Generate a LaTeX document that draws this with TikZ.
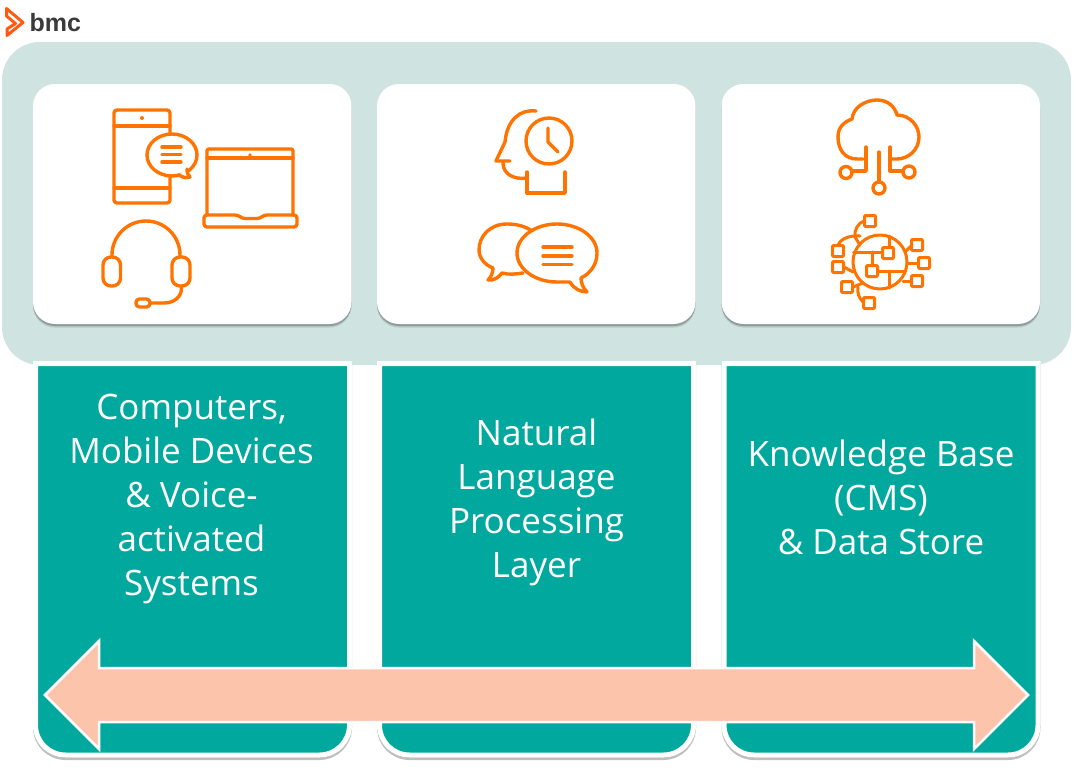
\documentclass[tikz,border=0pt]{standalone}
\usepackage{fontspec}
\setmainfont{Open Sans}
\newfontfamily\logofont{Liberation Sans}
\usetikzlibrary{calc,shadows}
\definecolor{panelgreen}{HTML}{CFE3E0}
\definecolor{colteal}{HTML}{01A89E}
\definecolor{arrowpeach}{HTML}{FBC4AB}
\definecolor{iconorange}{HTML}{FF7300}
\definecolor{logored}{HTML}{FF5A14}
\definecolor{logogray}{HTML}{3A3A3A}
\tikzset{
  colshadow/.style={drop shadow={shadow xshift=0pt,shadow yshift=-2.5pt,fill=black,draw=black,line width=5pt,opacity=.25}},
  cardshadow/.style={drop shadow={shadow xshift=0pt,shadow yshift=-3.5pt,fill=black,opacity=.12},
    drop shadow={shadow xshift=0pt,shadow yshift=-2pt,fill=black,opacity=.22}},
  icon/.style={draw=iconorange,line width=3.4pt,line cap=round,line join=round},
  iconthin/.style={icon,line width=3pt},
  coltext/.style={text=white,align=center,font=\fontsize{35}{44}\selectfont},
}
\begin{document}
\begin{tikzpicture}[x=1pt,y=-1pt]
    \useasboundingbox (0,0) rectangle (1078,776);
    \fill[white] (0,0) rectangle (1078,776);

    % logo
    \draw[logored,line width=3pt,line join=round,line cap=round]
        (6.5,8.5) -- (23,22.5) -- (7,35.5) -- (7,29) -- (15.5,23.5) -- (6.5,16) -- cycle;
    \node[anchor=base west,inner sep=0pt,text=logogray,font=\logofont\bfseries\fontsize{25}{25}\selectfont] (Logo) at (29.5,31.5) {bmc};

    % background panel
    \fill[panelgreen,rounded corners=38pt] (2,42) rectangle (1071,365);

    % the three columns, then the cards above them
    \foreach \x in {35.5,379.5,724}{
      \filldraw[colteal,draw=white,line width=5pt,colshadow]
          (\x,363.5) -- ++(314,0) [rounded corners=30pt] -- ++(0,391.5) -- ++(-314,0) [sharp corners] -- cycle;
      \fill[white,rounded corners=22pt,cardshadow]
          ($(\x,84)+(-2.5,0)$) rectangle ++(318.5,240);
    }

    % column texts
    \node[coltext] (ColDevices) at (191.5,499) {Computers,\\Mobile Devices\\\& Voice-\\activated\\Systems};
    \node[coltext] (ColLanguage) at (536.5,502) {Natural\\Language\\Processing\\Layer};
    \node[coltext] (ColKnowledge) at (881,497) {Knowledge Base\\(CMS)\\\& Data Store};

    % double arrow
    \filldraw[arrowpeach,draw=white,line width=2.5pt,line join=miter]
        (45,695) -- (99,641) -- (99,668) -- (974,668) -- (974,641) -- (1028,695)
        -- (974,749) -- (974,722) -- (99,722) -- (99,749) -- cycle;

    % phone with bubble
    \draw[icon,rounded corners=3pt] (114,110) rectangle (170,203);
    \draw[icon] (114,126) -- (170,126);
    \draw[icon] (114,188) -- (170,188);
    \fill[iconorange] (142,118) circle (2);
    \filldraw[icon,fill=white] (172,155) ellipse (25 and 21);
    \filldraw[icon,fill=white] (178,175) -- (181,176) .. controls (184,178) and (187,178) .. (190,177)
        .. controls (188,175) and (187,173) .. (187,169);
    \foreach \y in {147,154.5,162}{
      \draw[icon] (162,\y) -- (181,\y);
    }

    % laptop
    \draw[icon,rounded corners=2pt] (207,215) -- (207,149) -- (293,149) -- (293,215);
    \draw[icon] (207,158) -- (293,158);
    \fill[iconorange] (250,155) circle (1.8);
    \draw[icon,rounded corners=3pt] (204,215) -- (238,215) -- (242,218.5) -- (260,218.5) -- (264,215)
        -- (297,215) -- (297,227) -- (204,227) -- cycle;

    % headset
    \draw[icon] (112,256) -- (112,255) arc[start angle=180,end angle=360,radius=34] -- (180,256);
    \draw[icon,rounded corners=8pt] (103,257) rectangle (120.5,286);
    \draw[icon,rounded corners=8pt] (172,257) rectangle (190,286);
    \draw[icon] (181.5,286) -- (181.5,288) .. controls (181.5,297) and (174,303) .. (164,303) -- (150,303);
    \draw[icon,rounded corners=3.5pt] (136,299) rectangle (150,307);

    % head with clock
    \draw[icon] (536,111) .. controls (520,109) and (507,120) .. (505,142) -- (496,161) -- (510,161);
    \draw[icon] (503,163) .. controls (503,174) and (514,180) .. (527,178);
    \draw[icon] (527,172) -- (527,193) -- (565,193) -- (565,172);
    \draw[icon] (549,141) circle (23);
    \draw[icon] (548,128) -- (548,142) -- (558,152);

    % two speech bubbles
    \draw[icon] (532,231) .. controls (525,226) and (516,224) .. (507,224)
        .. controls (490,224) and (479,236) .. (479,250) .. controls (479,258) and (485,265) .. (493,268)
        .. controls (493,273) and (491,277) .. (488,280) .. controls (494,281) and (499,277) .. (502,273)
        .. controls (509,275) and (516,274) .. (523,273);
    \draw[icon] (570,282) .. controls (574,289) and (581,292) .. (587,292)
        .. controls (583,288) and (581,283) .. (581,278) .. controls (591,273) and (597,264) .. (597,253)
        .. controls (597,237) and (579,224) .. (557,224) .. controls (535,224) and (517,237) .. (517,253)
        .. controls (517,269) and (535,282) .. (557,282) .. controls (562,282) and (566,282) .. (570,282);
    \foreach \y in {247,256,264.5}{
      \draw[icon] (543,\y) -- (572,\y);
    }

    % cloud
    \draw[icon] (863,159) -- (857,159) .. controls (845,159) and (838,150) .. (838,137)
        .. controls (838,127) and (844,122) .. (852,119) .. controls (853,107) and (866,100) .. (877,100)
        .. controls (888,100) and (895,107) .. (897,115) .. controls (910,115) and (919,126) .. (919,137)
        .. controls (919,150) and (908,159) .. (897,159) -- (890,159);
    \draw[icon] (866,147) -- (866,171) -- (852,171);
    \draw[icon] (890,147) -- (890,171) -- (903,171);
    \draw[icon] (879,152) -- (879,182);
    \foreach \x/\y in {846/172.5,909/172,879/188}{
      \draw[icon] (\x,\y) circle (6);
    }

    % globe with network
    \draw[iconthin] (880,262) circle (27);
    \draw[iconthin] (853.5,252) -- (882,252);
    \draw[iconthin] (872,252) -- (872,266);
    \draw[iconthin] (889,236) -- (889,248);
    \draw[iconthin] (877,271) -- (905,271);
    \draw[iconthin] (889,271) -- (889,288);
    \draw[iconthin] (905,252) -- (912,245);
    \draw[iconthin] (907,263) -- (919,263);
    \draw[iconthin] (903,281) -- (912,281);
    \draw[iconthin] (864,221) .. controls (858,223) and (854,230) .. (855,237) -- (860,245);
    \draw[iconthin] (838,246) .. controls (839,240) and (848,235) .. (860,236);
    \draw[iconthin] (844,267) -- (853,272);
    \draw[iconthin] (853,287) -- (863,283);
    \draw[iconthin] (863,302) .. controls (859,298) and (857,293) .. (858,287);
    \foreach \x/\y in {870/221,838/251,838/267,847/287,869/303,917/245,924/263,917/281,888/253,872/271}{
      \filldraw[iconthin,fill=white,rounded corners=1pt] ($(\x,\y)+(-5.5,-5.5)$) rectangle ++(11,11);
    }
\end{tikzpicture}
\end{document}
